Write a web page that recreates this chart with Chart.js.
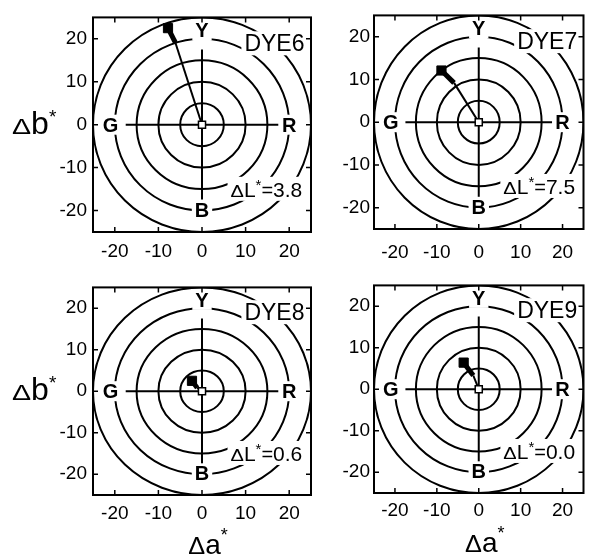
<!DOCTYPE html>
<html>
<head>
<meta charset="utf-8">
<script src="https://cdn.jsdelivr.net/npm/chart.js@4.4.1/dist/chart.umd.min.js"></script>
<style>
  html, body { margin: 0; padding: 0; background: #fff; }
  #wrap { position: relative; width: 591px; height: 558px; overflow: hidden; }
  canvas { position: absolute; }
</style>
</head>
<body>
<div id="wrap">
  <canvas id="c0" width="320" height="270" style="left:0;top:0"></canvas>
  <canvas id="c1" width="271" height="270" style="left:320px;top:0"></canvas>
  <canvas id="c2" width="320" height="288" style="left:0;top:270px"></canvas>
  <canvas id="c3" width="271" height="288" style="left:320px;top:270px"></canvas>
</div>
<script>
// values
const dyeNames = ['DYE6', 'DYE7', 'DYE8', 'DYE9'];
const deltaL = ['3.8', '7.5', '0.6', '0.0'];
const endA = [-7.8, -8.9, -2.3, -3.6];   // filled square
const endB = [22.5, 12.1, 2.5, 6.4];
const midA = [-6.1, -5.9, -1.1, -1.3];   // end of the thick part
const midB = [19.1, 9.2, 0.8, 3.3];
const ringRadii = [5, 10, 15, 20, 25];
const tickValues = [-20, -10, 0, 10, 20];
const hueNames = ['Y', 'G', 'R', 'B'];

const FONT = '"Liberation Sans", Arial, Helvetica, sans-serif';
const AXIS_MAX = 25;
const CROSS = 17.5;

// canvas layout for each panel
const panels = [
  { id: 'c0', yW: 93, xH: 38, top: 13, right: 9, xPad: 8, yPad: 6, yTitle: true,  xTitle: false },
  { id: 'c1', yW: 54, xH: 41, top: 13, right: 2, xPad: 12, yPad: 4, yTitle: false, xTitle: false },
  { id: 'c2', yW: 93, xH: 63, top: 8,  right: 9, xPad: 7, yPad: 6, yTitle: true,  xTitle: true },
  { id: 'c3', yW: 54, xH: 65, top: 7,  right: 2, xPad: 6, yPad: 4, yTitle: false, xTitle: true }
];

// parts: [text, size, weight, rise, xscale]
function drawRich(ctx, parts, x, y, align, measureOnly) {
  const widths = parts.map(p => {
    ctx.font = p[2] + ' ' + p[1] + 'px ' + FONT;
    return ctx.measureText(p[0]).width * (p[4] || 1);
  });
  const total = widths.reduce((a, b) => a + b, 0);
  let cx = align === 'right' ? x - total : align === 'center' ? x - total / 2 : x;
  const left = cx;
  if (!measureOnly) {
    ctx.textAlign = 'left';
    ctx.textBaseline = 'alphabetic';
    parts.forEach((p, k) => {
      ctx.font = p[2] + ' ' + p[1] + 'px ' + FONT;
      ctx.save();
      ctx.translate(cx, y - (p[3] || 0));
      ctx.scale(p[4] || 1, 1);
      ctx.fillText(p[0], 0, 0);
      ctx.restore();
      cx += widths[k];
    });
  }
  return { left: left, right: left + total };
}

const ringPlugin = {
  id: 'rings',
  beforeDatasetsDraw(chart, args, opts) {
    const { ctx, chartArea: ca } = chart;
    const x = chart.scales.x, y = chart.scales.y;
    const cx = x.getPixelForValue(0), cy = y.getPixelForValue(0);
    ctx.save();
    ctx.beginPath();
    ctx.rect(ca.left, ca.top, ca.width, ca.height);
    ctx.clip();
    ctx.strokeStyle = '#000';
    ctx.lineWidth = 2;
    ringRadii.forEach(r => {
      ctx.beginPath();
      ctx.ellipse(cx, cy, x.getPixelForValue(r) - cx, cy - y.getPixelForValue(r), 0, 0, Math.PI * 2);
      ctx.stroke();
    });
    ctx.beginPath();
    ctx.moveTo(x.getPixelForValue(-CROSS), cy);
    ctx.lineTo(x.getPixelForValue(CROSS), cy);
    ctx.moveTo(cx, y.getPixelForValue(CROSS));
    ctx.lineTo(cx, y.getPixelForValue(-CROSS));
    ctx.stroke();

    // hue letters on white boxes
    const hueAt = { Y: [0, 22], G: [-21, 0], R: [20, 0], B: [0, -19.8] };
    ctx.font = 'bold 20px ' + FONT;
    ctx.textAlign = 'center';
    ctx.textBaseline = 'alphabetic';
    hueNames.forEach(h => {
      const px = x.getPixelForValue(hueAt[h][0]), py = y.getPixelForValue(hueAt[h][1]);
      const w = ctx.measureText(h).width;
      ctx.fillStyle = '#fff';
      ctx.fillRect(px - w / 2 - 3, py - 10, w + 6, 20);
      ctx.fillStyle = '#000';
      ctx.fillText(h, px, py + 7);
    });

    // dye name
    ctx.font = '23px ' + FONT;
    ctx.textAlign = 'right';
    const dx = x.getPixelForValue(23.5), dy = y.getPixelForValue(17.1);
    const dw = ctx.measureText(opts.dye).width;
    ctx.fillStyle = '#fff';
    ctx.fillRect(dx - dw - 3, dy - 20, dw + 6, 24);
    ctx.fillStyle = '#000';
    ctx.fillText(opts.dye, dx, dy);

    // delta L
    const lx = x.getPixelForValue(23), ly = y.getPixelForValue(-16.8);
    const parts = [['Δ', 16, '', 0, 1.25], ['L', 21, ''], ['*', 15, '', 7], ['=', 20, ''], [opts.dL, 21, '']];
    const ext = drawRich(ctx, parts, lx, ly, 'right', true);
    ctx.fillStyle = '#fff';
    ctx.fillRect(ext.left - 3, ly - 20, ext.right - ext.left + 6, 24);
    ctx.fillStyle = '#000';
    drawRich(ctx, parts, lx, ly, 'right');
    ctx.restore();
  },
  afterDatasetsDraw(chart) {
    const { ctx, chartArea: ca } = chart;
    const x = chart.scales.x, y = chart.scales.y;
    ctx.save();
    ctx.strokeStyle = '#000';
    ctx.lineWidth = 2;
    ctx.strokeRect(ca.left, ca.top, ca.width, ca.height);
    ctx.lineWidth = 1.5;
    ctx.beginPath();
    tickValues.forEach(v => {
      const px = x.getPixelForValue(v), py = y.getPixelForValue(v);
      ctx.moveTo(px, ca.bottom); ctx.lineTo(px, ca.bottom - 5);
      ctx.moveTo(px, ca.top); ctx.lineTo(px, ca.top + 5);
      ctx.moveTo(ca.left, py); ctx.lineTo(ca.left + 5, py);
      ctx.moveTo(ca.right, py); ctx.lineTo(ca.right - 5, py);
    });
    ctx.stroke();
    ctx.restore();
  },
  afterDraw(chart, args, opts) {
    const { ctx, chartArea: ca } = chart;
    const x = chart.scales.x, y = chart.scales.y;
    ctx.save();
    ctx.fillStyle = '#000';
    if (opts.yTitle) {
      drawRich(ctx, [['Δ', 22, '', 0, 1.3], ['b', 32, ''], ['*', 19, '', 11]],
        ca.left - 81, y.getPixelForValue(0) + 9, 'left');
    }
    if (opts.xTitle) {
      drawRich(ctx, [['Δ', 23, '', 0, 1.1], ['a', 28, ''], ['*', 18, '', 13]],
        x.getPixelForValue(0) + 6, ca.bottom + 59, 'center');
    }
    ctx.restore();
  }
};

function axis(pad, horizontal, size) {
  return {
    type: 'linear',
    min: -AXIS_MAX,
    max: AXIS_MAX,
    grid: { display: false, drawTicks: false },
    border: { display: false },
    afterBuildTicks: s => { s.ticks = tickValues.map(v => ({ value: v })); },
    afterFit: s => { if (horizontal) s.height = size; else s.width = size; },
    ticks: { color: '#000', padding: pad, font: { family: FONT, size: 19 } }
  };
}

panels.forEach((p, i) => {
  new Chart(document.getElementById(p.id), {
    type: 'scatter',
    data: {
      datasets: [
        {
          label: 'origin',
          data: [{ x: 0, y: 0 }],
          pointStyle: 'rect',
          pointRadius: 5,
          backgroundColor: '#fff',
          borderColor: '#000',
          borderWidth: 1.5
        },
        {
          label: 'shift',
          data: [{ x: endA[i], y: endB[i] }],
          pointStyle: 'rect',
          pointRadius: 6.5,
          backgroundColor: '#000',
          borderColor: '#000',
          borderWidth: 1
        },
        {
          label: 'thick',
          data: [{ x: midA[i], y: midB[i] }, { x: endA[i], y: endB[i] }],
          showLine: true,
          pointRadius: 0,
          borderColor: '#000',
          borderWidth: 5
        },
        {
          label: 'thin',
          data: [{ x: 0, y: 0 }, { x: midA[i], y: midB[i] }],
          showLine: true,
          pointRadius: 0,
          borderColor: '#000',
          borderWidth: 2
        }
      ]
    },
    options: {
      responsive: false,
      animation: false,
      devicePixelRatio: 1,
      layout: { padding: { top: p.top, right: p.right, left: 0, bottom: 0 } },
      scales: {
        x: axis(p.xPad, true, p.xH),
        y: axis(p.yPad, false, p.yW)
      },
      plugins: {
        legend: { display: false },
        tooltip: { enabled: false },
        rings: { dye: dyeNames[i], dL: deltaL[i], yTitle: p.yTitle, xTitle: p.xTitle }
      }
    },
    plugins: [ringPlugin]
  });
});
</script>
</body>
</html>
